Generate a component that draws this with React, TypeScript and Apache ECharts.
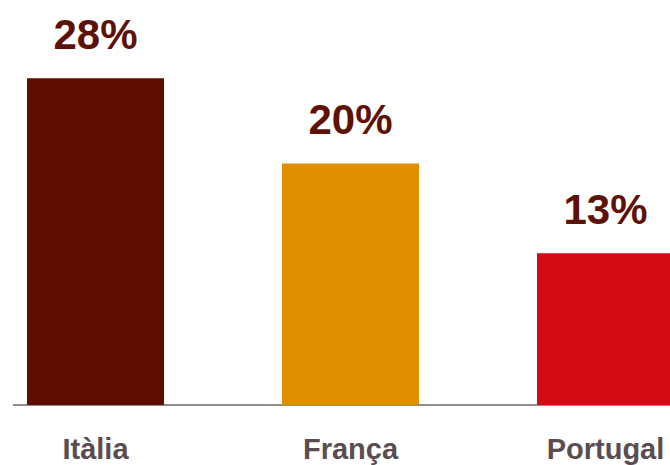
import React, { useEffect, useRef } from "react";
import * as echarts from "echarts";

const categories = ["Itàlia", "França", "Portugal"];
const values = [28, 20.7, 13];
const valueLabels = ["28%", "20%", "13%"];
const barColors = ["#5e0e00", "#e08f00", "#d30a14"];

export default function App() {
  const ref = useRef<HTMLDivElement>(null);
  useEffect(() => {
    const chart = echarts.init(ref.current!, undefined, { renderer: "svg" });
    chart.setOption({
      animation: false,
      backgroundColor: "#ffffff",
      grid: { left: 0, right: 0, top: 55, bottom: 60, containLabel: false },
      xAxis: {
        type: "category",
        data: categories,
        axisLine: { show: false },
        axisTick: { show: false },
        axisLabel: {
          color: "#5a4d50",
          fontFamily: "Liberation Sans, Arial, sans-serif",
          fontWeight: "bold",
          fontSize: 29,
          margin: 29,
        },
      },
      yAxis: {
        type: "value",
        min: 0,
        max: 30,
        show: false,
        splitLine: { show: false },
      },
      series: [
        {
          type: "bar",
          barWidth: 137,
          data: values.map((v, i) => ({ value: v, itemStyle: { color: barColors[i] } })),
          label: {
            show: true,
            position: "top",
            distance: 23,
            color: "#5e1206",
            fontFamily: "Liberation Sans, Arial, sans-serif",
            fontWeight: "bold",
            fontSize: 42,
            formatter: (p: any) => valueLabels[p.dataIndex],
          },
        },
      ],
      graphic: [
        {
          type: "line",
          shape: { x1: 45, y1: 405, x2: 765, y2: 405 },
          style: { stroke: "#6d6466", lineWidth: 1.5 },
          z: -1,
        },
      ],
    });
    return () => chart.dispose();
  }, []);
  return (
    <div
      style={{
        position: "absolute",
        left: 0,
        top: 0,
        width: 670,
        height: 465,
        overflow: "hidden",
        background: "#ffffff",
      }}
    >
      <div
        ref={ref}
        style={{ position: "absolute", left: -32, top: 0, width: 765, height: 465 }}
      />
    </div>
  );
}
